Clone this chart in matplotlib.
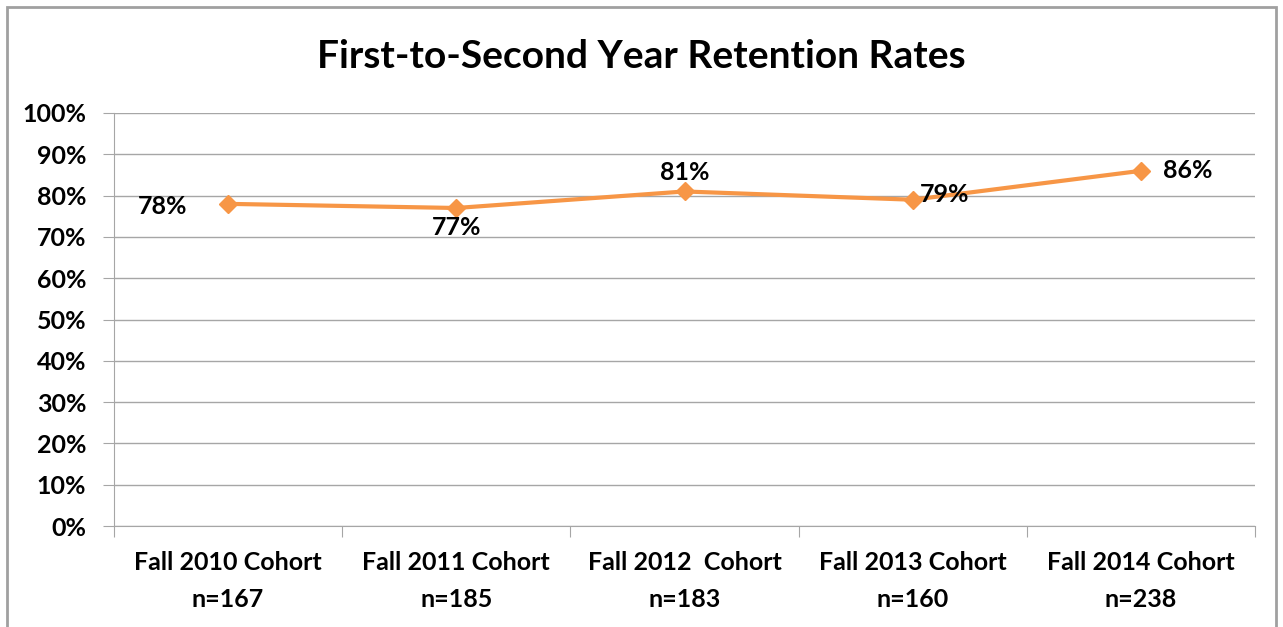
import matplotlib.pyplot as plt
from matplotlib.patches import Rectangle
from matplotlib.ticker import FixedLocator

plt.rcParams['font.family'] = ['Lato', 'DejaVu Sans']
plt.rcParams['font.weight'] = 'bold'

cohorts = ["Fall 2010 Cohort\nn=167", "Fall 2011 Cohort\nn=185", "Fall 2012  Cohort\nn=183",
           "Fall 2013 Cohort\nn=160", "Fall 2014 Cohort\nn=238"]
rates = [78, 77, 81, 79, 86]
rate_labels = ["78%", "77%", "81%", "79%", "86%"]

orange = "#F79646"
grid_grey = "#A6A6A6"

fig = plt.figure(figsize=(12.83, 6.27), dpi=100)
ax = fig.add_axes([114 / 1283, 1 - 526 / 627, (1255 - 114) / 1283, (526 - 113) / 627])

x = list(range(len(cohorts)))
ax.plot(x, rates, color=orange, linewidth=3, marker="D", markersize=9, zorder=3)

# data labels positioned like the original
offsets = [(-47, -2), (0, -14), (0, 14), (23, 4), (34, 0)]
for xi, yi, lab, off in zip(x, rates, rate_labels, offsets):
    ax.annotate(lab, (xi, yi), xytext=off, textcoords="offset points",
                ha="center", va="center", fontsize=18, fontweight="bold", zorder=4)

ax.set_xlim(-0.5, len(cohorts) - 0.5)
ax.set_ylim(0, 100)
ax.set_yticks(range(0, 101, 10))
ax.set_yticklabels([f"{v}%" for v in range(0, 101, 10)], fontsize=18, fontweight="bold")
ax.yaxis.grid(True, color=grid_grey, linewidth=1)
ax.set_axisbelow(True)

ax.xaxis.set_major_locator(FixedLocator([i - 0.5 for i in range(len(cohorts) + 1)]))
ax.xaxis.set_minor_locator(FixedLocator(x))
ax.set_xticklabels([])
ax.set_xticklabels(cohorts, minor=True, fontsize=18, fontweight="bold", linespacing=1.75)
ax.tick_params(axis="x", which="major", length=8, color=grid_grey, direction="out")
ax.tick_params(axis="x", which="minor", length=0, pad=18)
ax.tick_params(axis="y", length=8, color=grid_grey, pad=12)

for side in ["top", "right"]:
    ax.spines[side].set_visible(False)
for side in ["left", "bottom"]:
    ax.spines[side].set_color(grid_grey)

fig.text(0.5, 1 - 57 / 627, "First-to-Second Year Retention Rates", ha="center", va="center",
         fontsize=28, fontweight="bold")

fig.patches.append(Rectangle((7 / 1283, -0.05), (1276 - 7) / 1283, 1 - 7 / 627 + 0.05,
                             transform=fig.transFigure, fill=False, edgecolor="#A0A0A0", linewidth=2))

fig.savefig("out.png", dpi=100)
